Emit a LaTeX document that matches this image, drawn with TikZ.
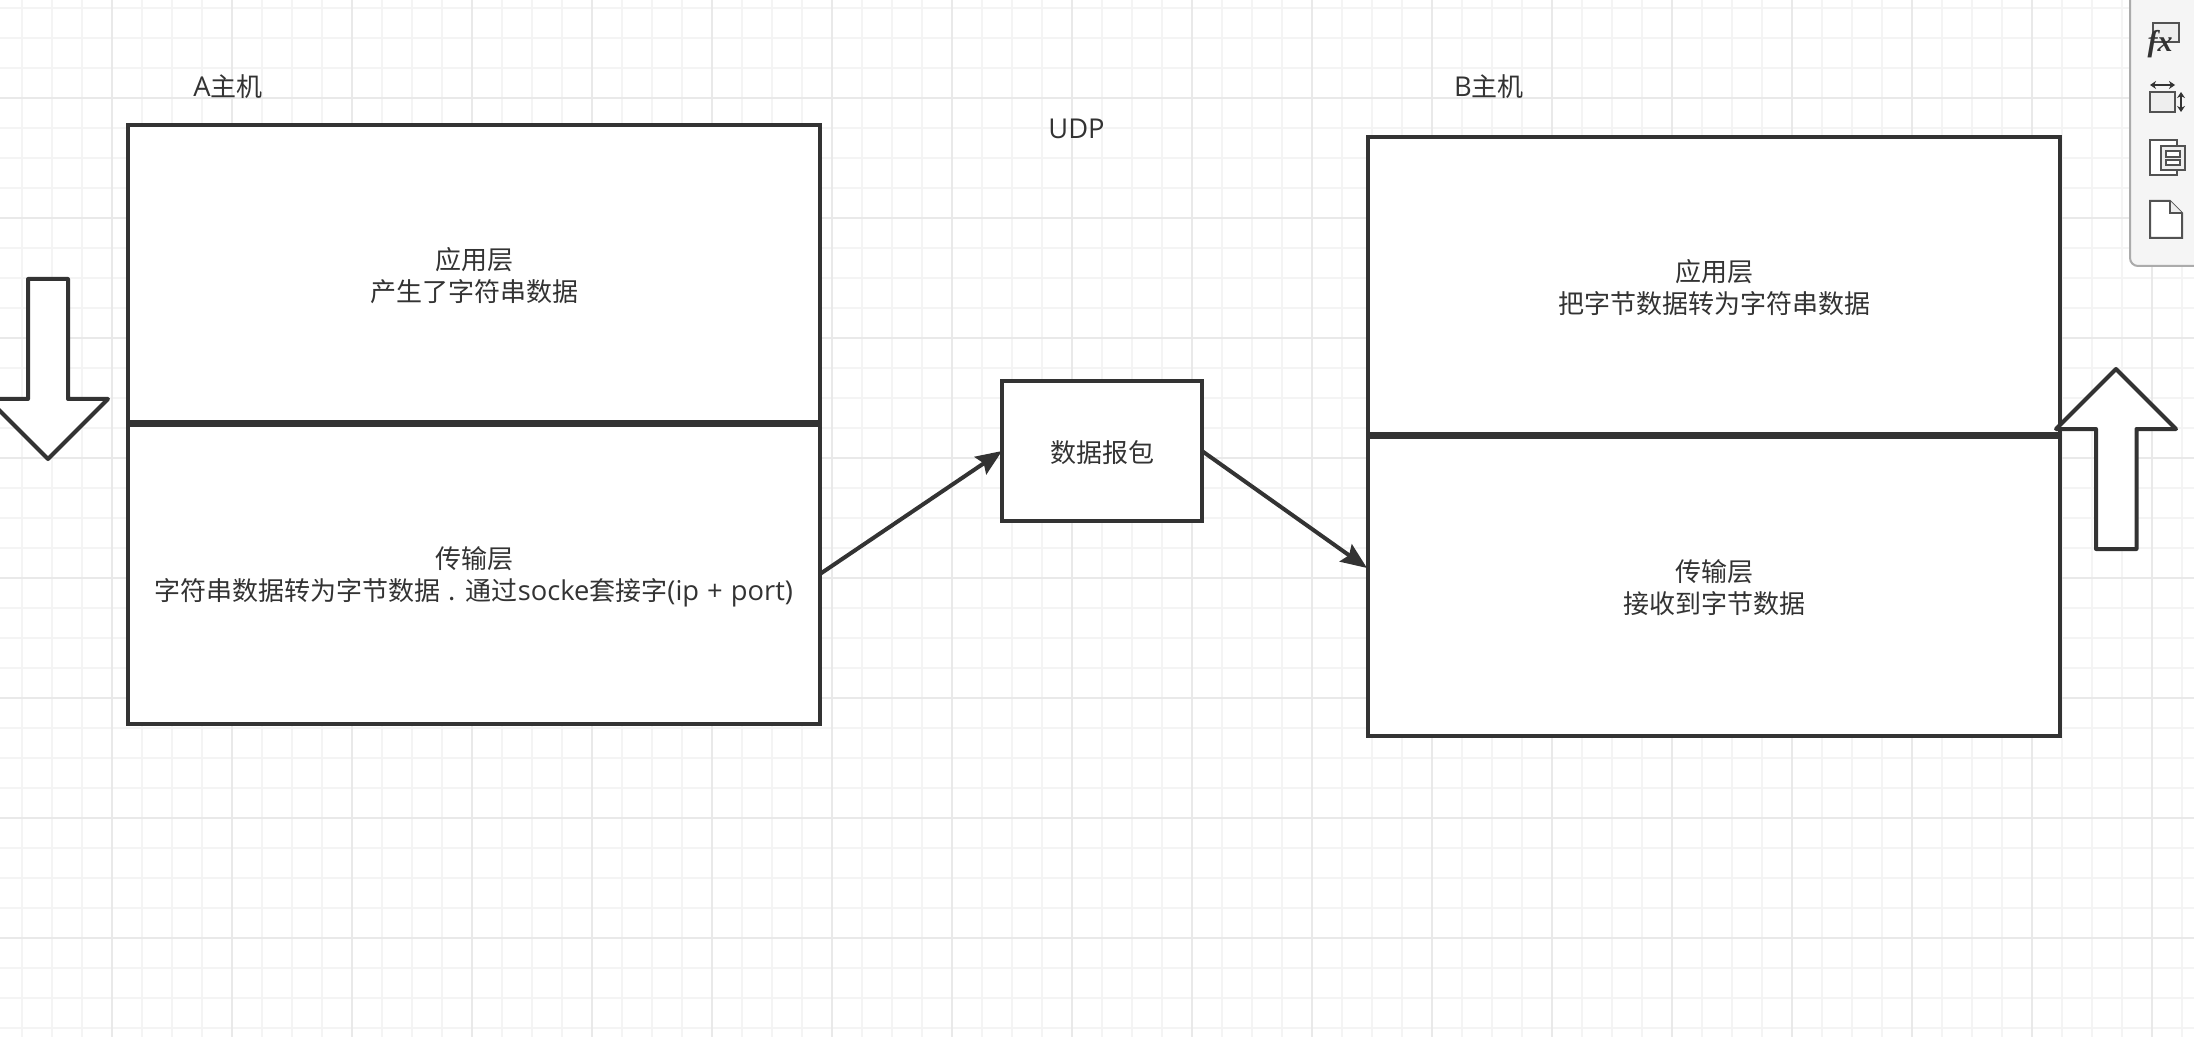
\documentclass[tikz,border=0pt]{standalone}
\usepackage{fontspec}
\setmainfont{Noto Sans CJK SC}
\newfontfamily\fxfont{Liberation Serif}
\newfontfamily\latinfont[Scale=1.05]{Open Sans}
\newcommand{\lat}[1]{{\latinfont #1}}
\newcommand{\droptext}{\rule{0pt}{13.6pt}}
\newcommand{\dropless}{\rule{0pt}{12.8pt}}
\usetikzlibrary{arrows.meta}
\definecolor{ink}{HTML}{333333}
\definecolor{gridmajor}{HTML}{E9E9E9}
\definecolor{gridminor}{HTML}{F4F4F4}
\definecolor{panelfill}{HTML}{F5F5F5}
\definecolor{panelline}{HTML}{ABABAB}
\definecolor{iconfill}{HTML}{EEEEEE}
\tikzset{
  layerbox/.style={draw=ink,fill=white,line width=2pt,outer sep=0pt,inner sep=0pt,text=ink,
    align=center,font=\fontsize{13}{16}\selectfont,minimum width=346pt},
  packetbox/.style={draw=ink,fill=white,line width=2pt,outer sep=0pt,inner sep=0pt,text=ink,
    font=\fontsize{13}{16}\selectfont,minimum width=100pt,minimum height=70pt},
  caption/.style={text=ink,inner sep=0pt,font=\fontsize{13}{16}\selectfont},
  flow/.style={draw=ink,line width=2pt,-{Stealth[length=13pt,width=10.5pt,inset=2pt]},shorten >=0pt},
  bigarrow/.style={draw=ink,fill=white,line width=2pt,line join=round},
  icon/.style={draw=ink!85,line width=1pt,fill=iconfill,line join=miter},
  iconline/.style={draw=ink,line width=1pt,<->,>={Stealth[length=3pt,width=4pt]}}
}
\begin{document}
\begin{tikzpicture}[x=0.5pt,y=-0.5pt]
\useasboundingbox (0,0) rectangle (2194,1037);
\clip (0,0) rectangle (2194,1037);
\fill[white] (0,0) rectangle (2194,1037);
% grid
\foreach \k in {0,...,73} {\draw[gridminor,line width=1.2pt] ({22+30*\k},0) -- ({22+30*\k},1037);}
\foreach \k in {0,...,34} {\draw[gridminor,line width=1.2pt] (0,{8+30*\k}) -- (2194,{8+30*\k});}
\foreach \k in {0,...,18} {\draw[gridmajor,line width=1.2pt] ({112+120*\k},0) -- ({112+120*\k},1037);}
\foreach \k in {0,...,8} {\draw[gridmajor,line width=1.2pt] (0,{98+120*\k}) -- (2194,{98+120*\k});}
% arrows beside the hosts
\draw[bigarrow] (28,279) -- (68,279) -- (68,399) -- (108,399) -- (48,459) -- (-12,399) -- (28,399) -- cycle;
% host A
\node[layerbox,minimum height=148.5pt] (aapp) at (474,273.5) {\droptext 应用层\\产生了字符串数据};
\node[layerbox,minimum height=149.5pt] (atrans) at (474,574) {\droptext 传输层\\字符串数据转为字节数据\hspace{1pt} . \hspace{1pt}通过\lat{socke}套接字\lat{(ip\hspace{0.5pt} + \hspace{0.5pt}port)}};
% host B
\node[layerbox,minimum height=148.5pt] (bapp) at (1714,285.5) {\dropless 应用层\\把字节数据转为字符串数据};
\node[layerbox,minimum height=149.5pt] (btrans) at (1714,586) {\dropless 传输层\\接收到字节数据};
\draw[bigarrow] (2116,369) -- (2176,429) -- (2136.5,429) -- (2136.5,549) -- (2096,549) -- (2096,429) -- (2056,429) -- cycle;
% packet
\node[packetbox] (packet) at (1102,451) {\dropless 数据报包};
\coordinate (bin) at (1367,568);
\draw[flow] (atrans.east) -- (packet.west);
\draw[flow] (packet.east) -- (bin);
% captions
\node[caption] (hosta) at (228,87) {\lat{A}主机};
\node[caption] (hostb) at (1489,87) {\lat{B}主机};
\node[caption] (udp) at (1076.5,129) {\lat{UDP}};
% tool panel
\draw[panelline,fill=panelfill,line width=1pt,rounded corners=4pt] (2130,-10) -- (2130,266) -- (2204,266) -- (2204,-10);
% format icon
\draw[icon] (2153,23) rectangle (2179,42);
\node[text=ink,inner sep=0pt,font=\fxfont\bfseries\itshape\fontsize{15}{15}\selectfont] (fx) at (2160,44) {fx};
% size icon
\draw[icon] (2150,92) rectangle (2175,112);
\draw[iconline] (2150,85) -- (2175,85);
\draw[iconline] (2181,92) -- (2181,112);
% arrange icon
\draw[icon,fill=white] (2150,140) rectangle (2177,175);
\draw[icon,fill=iconfill] (2161,146) rectangle (2185,170);
\draw[icon,fill=white] (2166,151) rectangle (2180,157);
\draw[icon,fill=white] (2166,160) rectangle (2180,165);
% page icon
\draw[icon,fill=white] (2150,201) -- (2170,201) -- (2182,213) -- (2182,238) -- (2150,238) -- cycle;
\draw[icon,fill=iconfill] (2170,201) -- (2170,213) -- (2182,213);
\end{tikzpicture}
\end{document}
